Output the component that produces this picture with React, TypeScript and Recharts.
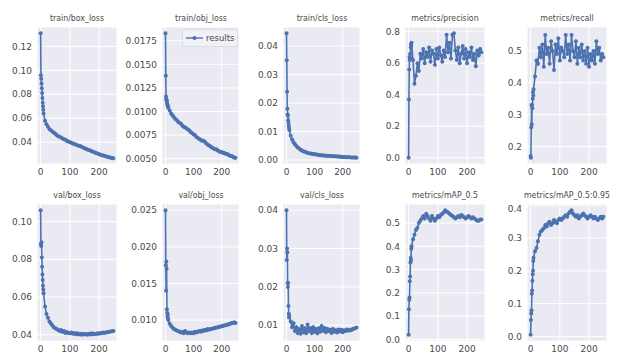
import React from "react";
import { LineChart, Line, XAxis, YAxis, CartesianGrid } from "recharts";

// epochs sampled from the training log (dense at start, every 5 after)
const EPOCHS = [
  0, 1, 2, 3, 4, 5, 6, 7, 8, 9, 10, 15, 20, 25, 30, 35, 40, 45, 50, 55, 60, 65, 70, 75, 80, 85, 90, 95,
  100, 105, 110, 115, 120, 125, 130, 135, 140, 145, 150, 155, 160, 165, 170, 175, 180, 185, 190, 195,
  200, 205, 210, 215, 220, 225, 230, 235, 240, 245, 249,
];

const TRAIN_BOX = [
  0.131, 0.096, 0.093, 0.089, 0.085, 0.081, 0.077, 0.073, 0.07, 0.067, 0.064, 0.058, 0.055, 0.053, 0.051,
  0.05, 0.049, 0.048, 0.047, 0.046, 0.045, 0.0445, 0.044, 0.043, 0.0425, 0.042, 0.041, 0.0405, 0.04, 0.0395,
  0.039, 0.0385, 0.038, 0.0375, 0.037, 0.0368, 0.0362, 0.0355, 0.035, 0.0345, 0.034, 0.0335, 0.033, 0.0325,
  0.032, 0.0315, 0.031, 0.0305, 0.03, 0.0296, 0.0292, 0.0288, 0.0284, 0.028, 0.0277, 0.0274, 0.0271, 0.0268,
  0.0265,
];

const TRAIN_OBJ = [
  0.0183, 0.0138, 0.0116, 0.0113, 0.0112, 0.011, 0.0108, 0.0107, 0.0106, 0.0105, 0.0104, 0.0101, 0.0098,
  0.0096, 0.0094, 0.0092, 0.0091, 0.0089, 0.0088, 0.0087, 0.0085, 0.0084, 0.0083, 0.0082, 0.0081, 0.008,
  0.0078, 0.0077, 0.0076, 0.0075, 0.0073, 0.0072, 0.0071, 0.007, 0.0069, 0.0069, 0.0068, 0.0066, 0.0065,
  0.0064, 0.0063, 0.0062, 0.0061, 0.006, 0.006, 0.0059, 0.0058, 0.0057, 0.0057, 0.0056, 0.0056, 0.0055,
  0.0055, 0.0054, 0.0053, 0.0053, 0.0052, 0.0051, 0.0051,
];

const TRAIN_CLS = [
  0.0445, 0.035, 0.024, 0.018, 0.016, 0.0155, 0.014, 0.013, 0.012, 0.0112, 0.0105, 0.0085, 0.0072, 0.0062,
  0.0055, 0.0049, 0.0044, 0.004, 0.0036, 0.0033, 0.0031, 0.0029, 0.0027, 0.0025, 0.0024, 0.0023, 0.0022,
  0.0021, 0.002, 0.0019, 0.0019, 0.0018, 0.0017, 0.0017, 0.0016, 0.0016, 0.0015, 0.0015, 0.0015, 0.0014,
  0.0014, 0.0013, 0.0013, 0.0013, 0.0012, 0.0012, 0.0012, 0.0011, 0.0011, 0.0011, 0.001, 0.001, 0.001,
  0.001, 0.0009, 0.0009, 0.0009, 0.0009, 0.0008,
];

const PRECISION = [
  0.0, 0.37, 0.56, 0.64, 0.62, 0.66, 0.63, 0.7, 0.72, 0.71, 0.73, 0.62, 0.47, 0.52, 0.6, 0.55, 0.66, 0.63,
  0.69, 0.6, 0.67, 0.64, 0.7, 0.61, 0.68, 0.66, 0.59, 0.69, 0.63, 0.7, 0.65, 0.61, 0.68, 0.64, 0.78, 0.67,
  0.73, 0.63, 0.78, 0.79, 0.68, 0.62, 0.7, 0.6, 0.66, 0.71, 0.63, 0.69, 0.6, 0.67, 0.64, 0.7, 0.62, 0.66,
  0.58, 0.68, 0.65, 0.69, 0.67,
];

const RECALL = [
  0.17, 0.165, 0.26, 0.33, 0.27, 0.33, 0.32, 0.35, 0.37, 0.36, 0.38, 0.42, 0.47, 0.46, 0.51, 0.48, 0.52,
  0.45, 0.55, 0.49, 0.51, 0.46, 0.53, 0.5, 0.44, 0.52, 0.49, 0.54, 0.47, 0.51, 0.5, 0.48, 0.55, 0.49, 0.52,
  0.47, 0.55, 0.5, 0.48, 0.53, 0.46, 0.51, 0.48, 0.52, 0.47, 0.5, 0.46, 0.51, 0.45, 0.49, 0.47, 0.5, 0.46,
  0.53, 0.49, 0.51, 0.47, 0.49, 0.48,
];

const VAL_BOX = [
  0.106, 0.088, 0.087, 0.089, 0.081, 0.076, 0.072, 0.069, 0.066, 0.064, 0.062, 0.055, 0.051, 0.049, 0.047,
  0.046, 0.045, 0.044, 0.0435, 0.043, 0.0425, 0.042, 0.0425, 0.0415, 0.042, 0.041, 0.0415, 0.041, 0.0408,
  0.0412, 0.0405, 0.041, 0.0403, 0.0408, 0.0402, 0.0406, 0.04, 0.0405, 0.0401, 0.0404, 0.04, 0.0405,
  0.0402, 0.0408, 0.0403, 0.0406, 0.0404, 0.0408, 0.0406, 0.041, 0.0408, 0.0412, 0.041, 0.0414, 0.0413,
  0.0416, 0.0417, 0.0419, 0.042,
];

const VAL_OBJ = [
  0.025, 0.0175, 0.014, 0.018, 0.017, 0.0115, 0.011, 0.0105, 0.0108, 0.0102, 0.01, 0.0095, 0.0092, 0.009,
  0.0088, 0.0087, 0.0086, 0.0085, 0.0084, 0.0083, 0.0084, 0.0082, 0.0085, 0.0083, 0.0082, 0.0083, 0.0082,
  0.0083, 0.0082, 0.0084, 0.0083, 0.0084, 0.0085, 0.0084, 0.0086, 0.0085, 0.0087, 0.0086, 0.0088, 0.0087,
  0.0088, 0.0088, 0.0089, 0.0089, 0.009, 0.009, 0.0091, 0.0091, 0.0092, 0.0092, 0.0093, 0.0093, 0.0094,
  0.0094, 0.0095, 0.0096, 0.0096, 0.0097, 0.0096,
];

const VAL_CLS = [
  0.04, 0.027, 0.03, 0.029, 0.021, 0.02, 0.021, 0.015, 0.013, 0.012, 0.0125, 0.011, 0.0095, 0.0105, 0.0085,
  0.0095, 0.008, 0.009, 0.0078, 0.0098, 0.0082, 0.0092, 0.0079, 0.0102, 0.0085, 0.0093, 0.008, 0.0095,
  0.0083, 0.009, 0.0079, 0.0092, 0.0084, 0.0098, 0.0086, 0.0093, 0.0082, 0.0091, 0.0085, 0.0088, 0.008,
  0.009, 0.0083, 0.0087, 0.0081, 0.0089, 0.0084, 0.0088, 0.0082, 0.0087, 0.0085, 0.0089, 0.0086, 0.0088,
  0.0087, 0.009, 0.0091, 0.0093, 0.0094,
];

const MAP50 = [
  0.02, 0.13, 0.17, 0.18, 0.25, 0.27, 0.33, 0.35, 0.34, 0.39, 0.4, 0.43, 0.45, 0.47, 0.48, 0.5, 0.51, 0.52,
  0.53, 0.52, 0.54, 0.53, 0.52, 0.51, 0.53, 0.52, 0.51, 0.52, 0.53, 0.525, 0.535, 0.54, 0.545, 0.555, 0.55,
  0.545, 0.54, 0.535, 0.53, 0.525, 0.52, 0.525, 0.53, 0.525, 0.535, 0.53, 0.525, 0.52, 0.525, 0.53, 0.525,
  0.52, 0.525, 0.52, 0.515, 0.51, 0.51, 0.515, 0.515,
];

const MAP5095 = [
  0.005, 0.05, 0.07, 0.08, 0.13, 0.14, 0.17, 0.19, 0.2, 0.23, 0.24, 0.26, 0.27, 0.29, 0.31, 0.32, 0.325,
  0.33, 0.34, 0.335, 0.345, 0.35, 0.34, 0.345, 0.355, 0.35, 0.345, 0.355, 0.36, 0.355, 0.36, 0.365, 0.37,
  0.365, 0.375, 0.38, 0.385, 0.375, 0.37, 0.365, 0.37, 0.36, 0.365, 0.37, 0.375, 0.37, 0.365, 0.36, 0.365,
  0.37, 0.365, 0.36, 0.365, 0.36, 0.355, 0.36, 0.365, 0.36, 0.365,
];

const X_TICKS = [0, 100, 200];
const X_DOMAIN: [number, number] = [-12.45, 261.45];

const BLUE = "#4C72B0";
const FONT = "'DejaVu Sans', sans-serif";
const YW = 40;
const XH = 18;

type Panel = {
  title: string;
  values: number[];
  ticks: number[];
  domain: [number, number];
  digits: number;
  left: number;
  top: number;
  width: number;
  height: number;
  legend?: boolean;
};

const COLS = [
  { left: 37, width: 80 },
  { left: 162, width: 77 },
  { left: 283, width: 77 },
  { left: 405, width: 80 },
  { left: 527, width: 80 },
];
const ROWS = [
  { top: 27, height: 137 },
  { top: 204, height: 137 },
];

const panels: Panel[] = [
  { title: "train/box_loss", values: TRAIN_BOX, ticks: [0.04, 0.06, 0.08, 0.1, 0.12], domain: [0.0218, 0.1362], digits: 2, ...COLS[0], ...ROWS[0] },
  { title: "train/obj_loss", values: TRAIN_OBJ, ticks: [0.005, 0.0075, 0.01, 0.0125, 0.015, 0.0175], domain: [0.00444, 0.01896], digits: 4, legend: true, ...COLS[1], ...ROWS[0] },
  { title: "train/cls_loss", values: TRAIN_CLS, ticks: [0, 0.01, 0.02, 0.03, 0.04], domain: [-0.0014, 0.0467], digits: 2, ...COLS[2], ...ROWS[0] },
  { title: "metrics/precision", values: PRECISION, ticks: [0, 0.2, 0.4, 0.6, 0.8], domain: [-0.04, 0.83], digits: 1, ...COLS[3], ...ROWS[0] },
  { title: "metrics/recall", values: RECALL, ticks: [0.2, 0.3, 0.4, 0.5], domain: [0.145, 0.575], digits: 1, ...COLS[4], ...ROWS[0] },
  { title: "val/box_loss", values: VAL_BOX, ticks: [0.04, 0.06, 0.08, 0.1], domain: [0.0367, 0.1093], digits: 2, ...COLS[0], ...ROWS[1] },
  { title: "val/obj_loss", values: VAL_OBJ, ticks: [0.01, 0.015, 0.02, 0.025], domain: [0.00715, 0.02585], digits: 3, ...COLS[1], ...ROWS[1] },
  { title: "val/cls_loss", values: VAL_CLS, ticks: [0.01, 0.02, 0.03, 0.04], domain: [0.0059, 0.0416], digits: 2, ...COLS[2], ...ROWS[1] },
  { title: "metrics/mAP_0.5", values: MAP50, ticks: [0, 0.1, 0.2, 0.3, 0.4, 0.5], domain: [-0.007, 0.582], digits: 1, ...COLS[3], ...ROWS[1] },
  { title: "metrics/mAP_0.5:0.95", values: MAP5095, ticks: [0, 0.1, 0.2, 0.3, 0.4], domain: [-0.014, 0.404], digits: 1, ...COLS[4], ...ROWS[1] },
];

function SubPlot({ p }: { p: Panel }) {
  const data = EPOCHS.map((e, i) => ({ epoch: e, v: p.values[i] }));
  return (
    <>
      <div
        style={{
          position: "absolute",
          left: p.left + p.width / 2,
          top: p.top - 15,
          transform: "translateX(-50%) scaleX(0.87)",
          whiteSpace: "nowrap",
          fontSize: 9,
          lineHeight: "12px",
          color: "#4a4a4a",
        }}
      >
        {p.title}
      </div>
      <div style={{ position: "absolute", left: p.left - YW, top: p.top }}>
        <LineChart
          width={YW + p.width}
          height={p.height + XH}
          data={data}
          margin={{ top: 0, right: 0, bottom: 0, left: 0 }}
        >
          <CartesianGrid fill="#EAEAF2" stroke="#ffffff" strokeWidth={1} />
          <XAxis
            dataKey="epoch"
            type="number"
            domain={X_DOMAIN}
            ticks={X_TICKS}
            allowDataOverflow
            axisLine={false}
            tickLine={false}
            tickSize={3}
            height={XH}
            tick={{ fontSize: 9, fill: "#4a4a4a", fontFamily: FONT }}
          />
          <YAxis
            type="number"
            domain={p.domain}
            ticks={p.ticks}
            allowDataOverflow
            axisLine={false}
            tickLine={false}
            tickSize={3}
            width={YW}
            tickFormatter={(v: number) => v.toFixed(p.digits)}
            tick={{ fontSize: 9, fill: "#4a4a4a", fontFamily: FONT }}
          />
          <Line
            dataKey="v"
            stroke={BLUE}
            strokeWidth={1.6}
            dot={{ r: 2, fill: BLUE, stroke: BLUE, strokeWidth: 0 }}
            isAnimationActive={false}
          />
        </LineChart>
      </div>
      {p.legend && (
        <div
          style={{
            position: "absolute",
            left: p.left + p.width - 57,
            top: p.top + 2,
            width: 54,
            height: 16,
            background: "rgba(242,242,248,0.9)",
            border: "1px solid #dcdce4",
            borderRadius: 2,
            display: "flex",
            alignItems: "center",
            fontSize: 8.5,
            color: "#4a4a4a",
          }}
        >
          <svg width={17} height={8} style={{ marginLeft: 3, marginRight: 3 }}>
            <line x1={0} y1={4} x2={17} y2={4} stroke={BLUE} strokeWidth={1.4} />
            <circle cx={8.5} cy={4} r={2} fill={BLUE} />
          </svg>
          results
        </div>
      )}
    </>
  );
}

export default function App() {
  return (
    <div
      style={{
        position: "absolute",
        left: 0,
        top: 0,
        width: 617,
        height: 360,
        background: "#fff",
        fontFamily: FONT,
        overflow: "hidden",
      }}
    >
      {panels.map((p) => (
        <SubPlot key={p.title} p={p} />
      ))}
    </div>
  );
}
